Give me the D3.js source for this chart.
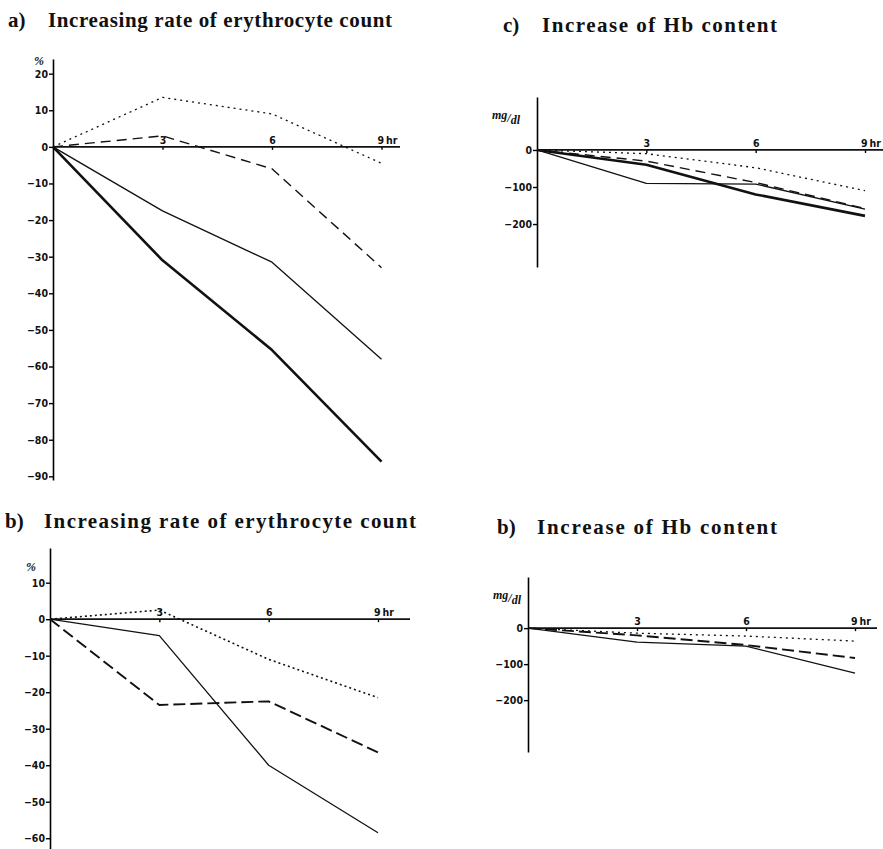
<!DOCTYPE html>
<html>
<head>
<meta charset="utf-8">
<script src="https://cdn.jsdelivr.net/npm/d3@7"></script>
<style>
  body { margin: 0; background: #fff; }
  .tick text { font-family: "DejaVu Sans Condensed", "Liberation Sans Narrow", sans-serif; font-weight: bold; font-size: 10.5px; fill: #111; }
  .title { font-family: "Liberation Serif", serif; font-weight: bold; font-size: 21px; fill: #111; }
  .unit { font-family: "Liberation Serif", serif; font-style: italic; font-weight: bold; font-size: 12px; fill: #111; }
</style>
</head>
<body>
<script>
// DATA
const hours = [0, 3, 6, 9];
const hourTicks = [3, 6, 9];

// a) erythrocyte count, %
const rbcA_dot = [0, 13.5, 9, -4.5];
const rbcA_dash = [0, 3, -6, -33];
const rbcA_thin = [0, -17.5, -31.5, -58];
const rbcA_thick = [0, -31, -55.5, -86];
const rbcTicksA = [20, 10, 0, -10, -20, -30, -40, -50, -60, -70, -80, -90];

// b) erythrocyte count, %
const rbcB_dot = [0, 2.5, -11, -21.5];
const rbcB_dash = [0, -23.5, -22.5, -36.5];
const rbcB_thin = [0, -4.5, -40, -58.5];
const rbcTicksB = [10, 0, -10, -20, -30, -40, -50, -60];

// c) Hb content, mg/dl
const hbC_dot = [0, -10, -48, -110];
const hbC_dash = [0, -30, -88, -158];
const hbC_thin = [0, -90, -92, -160];
const hbC_thick = [0, -40, -120, -178];

// b) Hb content, mg/dl
const hbD_dot = [0, -14, -22, -36];
const hbD_dash = [0, -20, -47, -83];
const hbD_thin = [0, -39, -50, -125];
const hbTicks = [0, -100, -200];

// Line STYLES
const styles = {
  thick: {w: 2.6, dash: null},
  thin: {w: 1.3, dash: null},
  dash: {w: 1.4, dash: "10,6"},
  dot: {w: 1.3, dash: "2,4"},
  dashB: {w: 1.9, dash: "12,5"},
  dotB: {w: 1.6, dash: "2,3"}
};

const svg = d3.select("body").append("svg").attr("width", 883).attr("height", 849);
svg.append("rect").attr("width", 883).attr("height", 849).attr("fill", "#fff");

const minus = d => d < 0 ? "\u2212" + Math.abs(d) : `${d}`;

// Panel "Blueprint"
function drawPanel(p) {
  const g = svg.append("g");
  const x = d3.scaleLinear().domain([0, 9]).range([p.x0, p.x9]);
  const y = d3.scaleLinear().domain(p.domain).range([p.yTop, p.yBot]);

  // Y-AXIS
  g.append("g")
    .attr("transform", `translate(${p.x0},0)`)
    .call(d3.axisLeft(y).tickValues(p.ticks).tickSize(4).tickSizeOuter(0).tickFormat(minus))
    .call(a => a.select(".domain").attr("stroke-width", 1.6))
    .call(a => a.selectAll(".tick line").attr("stroke-width", 1.4))
    .call(a => a.selectAll(".tick text").attr("x", -5));

  // X-AXIS
  const xa = g.append("g")
    .attr("transform", `translate(0,${y(0)})`)
    .call(d3.axisBottom(x).tickValues(hourTicks).tickSize(3).tickSizeOuter(0).tickFormat(d => d === 9 ? "9\u2009hr" : d));
  xa.select(".domain").remove();
  xa.selectAll(".tick line").attr("stroke-width", 1.4);
  xa.selectAll(".tick text").attr("y", -3).attr("dy", 0)
    .attr("text-anchor", d => d === 9 ? "start" : "middle")
    .attr("x", d => d === 9 ? -4.5 : 0);
  xa.append("line")
    .attr("x1", p.x0).attr("x2", p.xEnd)
    .attr("stroke", "#111").attr("stroke-width", 1.8);

  // SERIES
  const line = d3.line().x((d, i) => x(hours[i])).y(d => y(d));
  p.series.forEach(s => {
    g.append("path")
      .datum(s.values)
      .attr("d", line)
      .attr("fill", "none")
      .attr("stroke", "#111")
      .attr("stroke-width", styles[s.style].w)
      .attr("stroke-dasharray", styles[s.style].dash)
      .attr("stroke-linejoin", "round");
  });

  // UNIT label
  const u = g.append("text").attr("class", "unit")
    .attr("x", p.unitPos[0]).attr("y", p.unitPos[1]);
  if (p.unit === "%") {
    u.text("%");
  } else {
    u.append("tspan").text("mg").attr("dy", -3);
    u.append("tspan").text("/").attr("dy", 3);
    u.append("tspan").text("dl").attr("dy", 2);
  }

  // TITLE
  g.append("text").attr("class", "title")
    .attr("x", p.titlePos[0]).attr("y", p.titlePos[2]).text(p.tag);
  g.append("text").attr("class", "title")
    .attr("x", p.titlePos[1]).attr("y", p.titlePos[2])
    .attr("textLength", p.titleLen).attr("lengthAdjust", "spacing")
    .text(p.title);
}

// Draw PANELS
drawPanel({
  x0: 53, x9: 381.5, xEnd: 400, yTop: 59, yBot: 480, domain: [24, -91], ticks: rbcTicksA,
  unit: "%", unitPos: [34, 65],
  tag: "a)", title: "Increasing rate of  erythrocyte count", titlePos: [8, 48, 27], titleLen: 344,
  series: [
    {values: rbcA_dot, style: "dot"}, {values: rbcA_dash, style: "dash"},
    {values: rbcA_thin, style: "thin"}, {values: rbcA_thick, style: "thick"}
  ]
});
drawPanel({
  x0: 50, x9: 378, xEnd: 410, yTop: 548, yBot: 851, domain: [19.5, -63.5], ticks: rbcTicksB,
  unit: "%", unitPos: [26, 571],
  tag: "b)", title: "Increasing rate of erythrocyte count", titlePos: [5, 44, 528], titleLen: 372,
  series: [
    {values: rbcB_dot, style: "dotB"}, {values: rbcB_dash, style: "dashB"},
    {values: rbcB_thin, style: "thin"}
  ]
});
drawPanel({
  x0: 537, x9: 865, xEnd: 883, yTop: 97, yBot: 267, domain: [143, -316], ticks: hbTicks,
  unit: "mg", unitPos: [492, 122],
  tag: "c)", title: "Increase of Hb content", titlePos: [503, 542, 32], titleLen: 235,
  series: [
    {values: hbC_dot, style: "dot"}, {values: hbC_dash, style: "dash"},
    {values: hbC_thin, style: "thin"}, {values: hbC_thick, style: "thick"}
  ]
});
drawPanel({
  x0: 528, x9: 855, xEnd: 877, yTop: 577, yBot: 752, domain: [142, -344], ticks: hbTicks,
  unit: "mg", unitPos: [493, 602],
  tag: "b)", title: "Increase of Hb content", titlePos: [497, 537, 534], titleLen: 240,
  series: [
    {values: hbD_dot, style: "dot"}, {values: hbD_dash, style: "dashB"},
    {values: hbD_thin, style: "thin"}
  ]
});
</script>
</body>
</html>
